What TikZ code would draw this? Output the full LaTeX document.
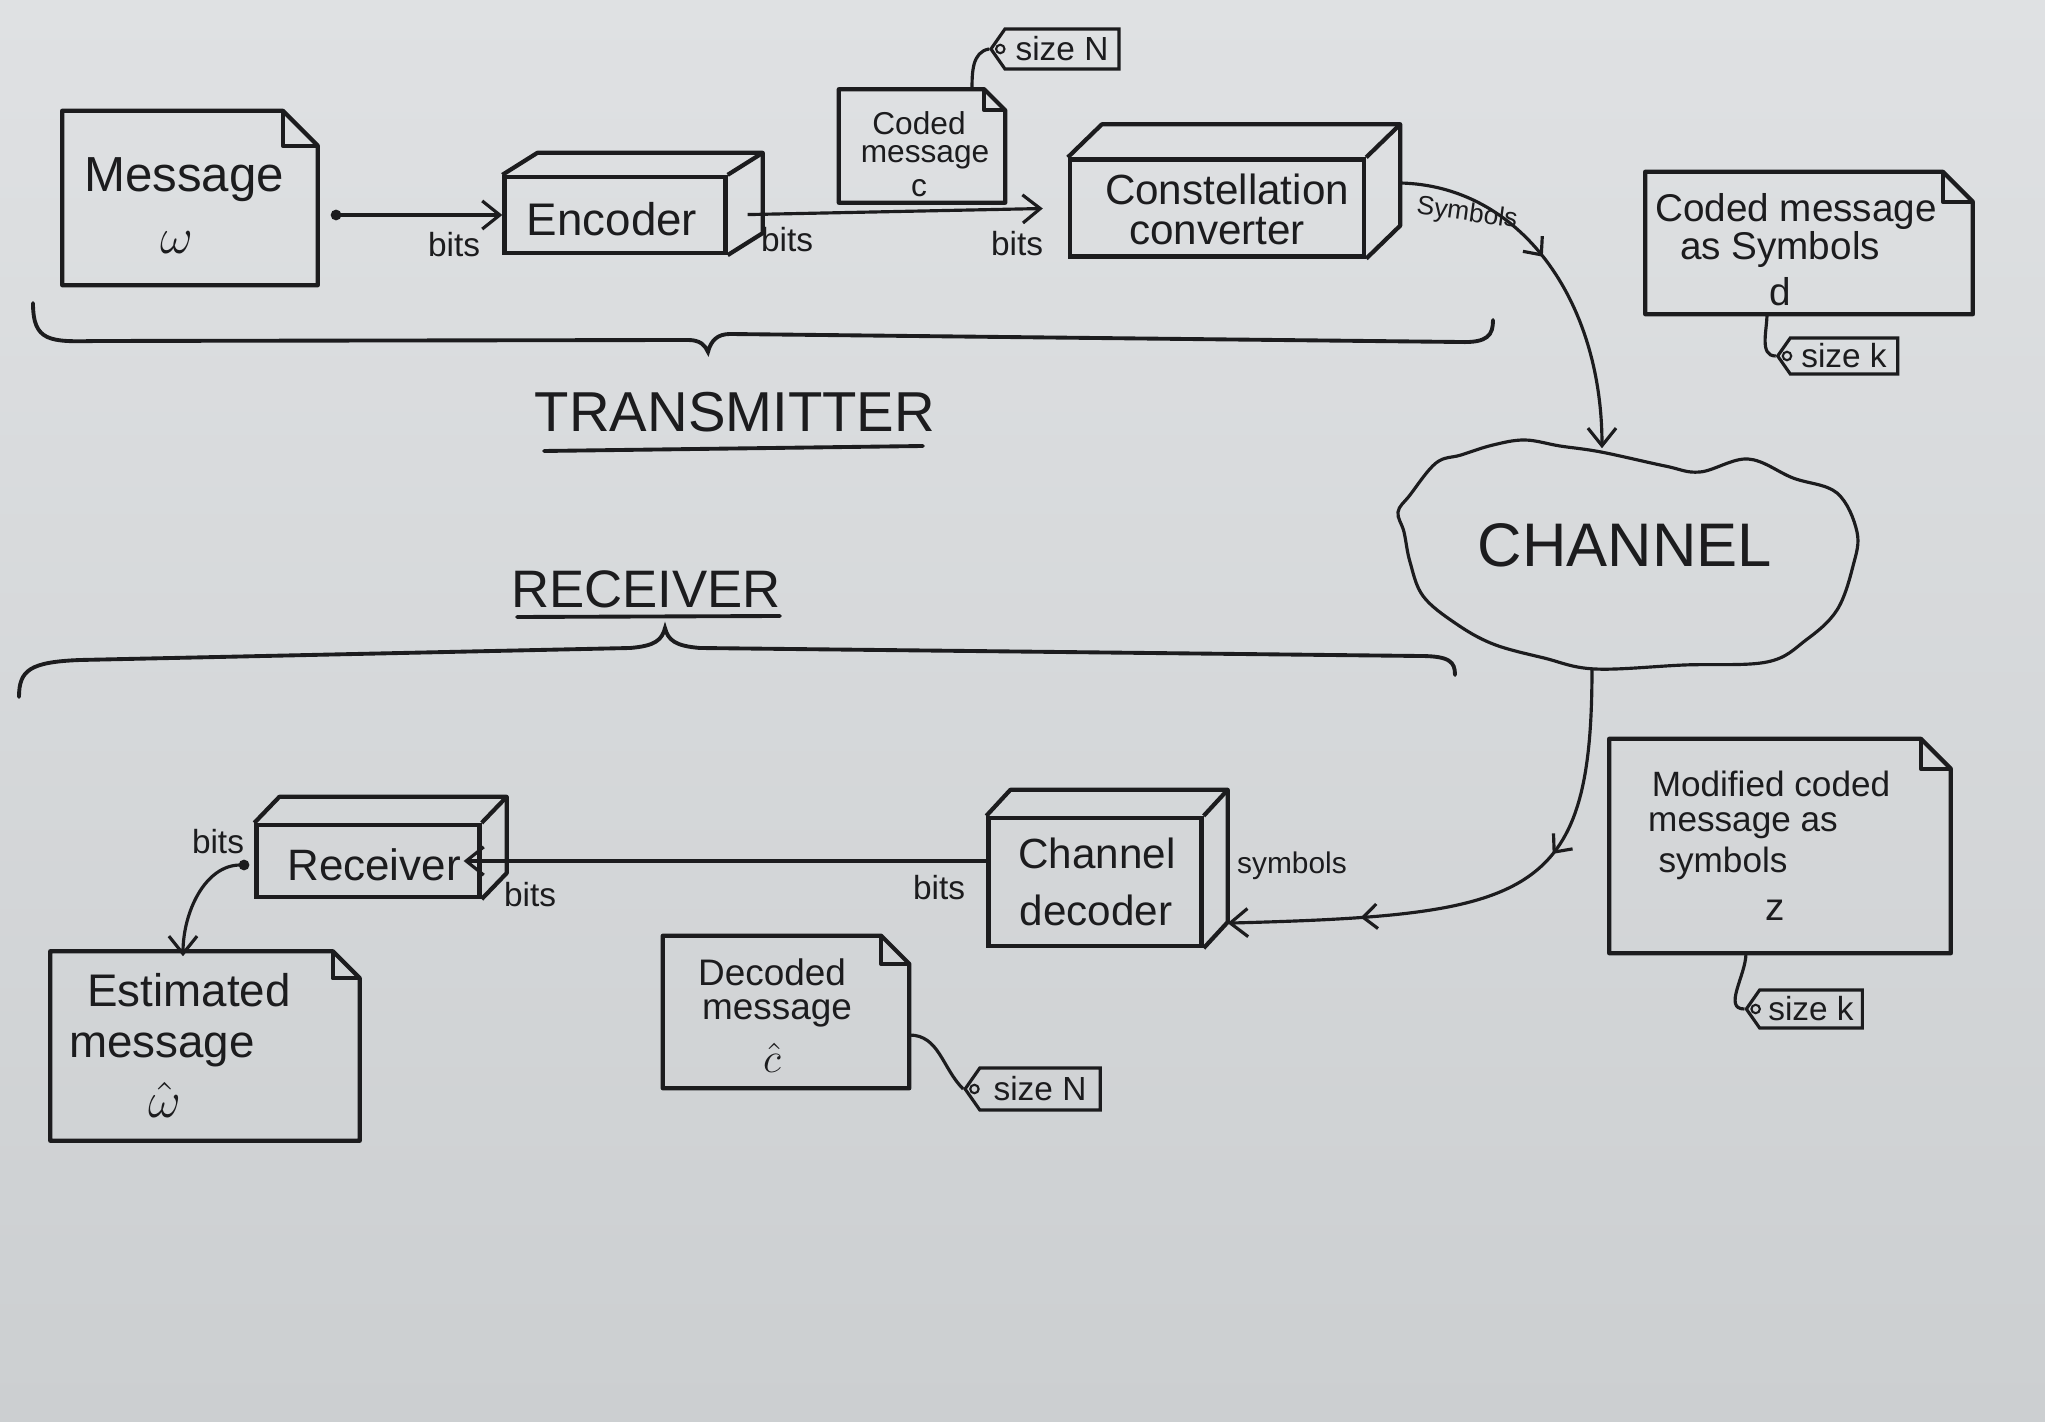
\documentclass[tikz,border=0pt]{standalone}
\usepackage{fontspec}
\setmainfont{Liberation Sans}
\usetikzlibrary{shapes.symbols,arrows.meta,decorations.markings,calc}
\definecolor{paperT}{RGB}{223,225,227}
\definecolor{paperB}{RGB}{204,207,209}
\definecolor{ink}{RGB}{28,28,30}
\newcommand{\fsz}[1]{\fontsize{#1}{#1}\selectfont}
% document outline with folded corner
\newcommand{\docframe}[2]{%
  \draw[docline] (#1.north west) -- ([xshift=-#2]#1.north east) -- ([yshift=-#2]#1.north east) -- (#1.south east) -- (#1.south west) -- cycle;
  \draw[docline] ([xshift=-#2]#1.north east) |- ([yshift=-#2]#1.north east);}
% 3D box: top and right faces
\newcommand{\cubeframe}[3]{%
  \draw[boxline] (#1.north west) -- ++(#2,#3) -- ([xshift=#2,yshift=#3]#1.north east) -- ([xshift=#2,yshift=#3]#1.south east) -- (#1.south east);
  \draw[boxline] (#1.north east) -- ++(#2,#3);}
\newcommand{\taghole}[1]{\draw[ink, line width=0.6pt] ([xshift=3.2pt]#1.west) circle (1.2pt);}
\tikzset{
  boxline/.style={draw=ink, line width=1.2pt, line join=round},
  docline/.style={draw=ink, line width=1.2pt, line join=round},
  cubefront/.style={rectangle, draw=ink, line width=1.2pt, inner sep=0pt},
  docbox/.style={rectangle, inner sep=0pt, draw=none},
  conn/.style={draw=ink, line width=0.9pt},
  arr/.style={conn, -{Straight Barb[length=5pt,width=8pt]}},
  dotarr/.style={conn, {Circle[length=3pt]}-{Straight Barb[length=5pt,width=8pt]}},
  tagbox/.style={signal, signal to=west, signal pointer angle=110, draw=ink, line width=0.9pt,
    inner sep=1pt, text=ink, font=\fsz{9.5}},
  lbl/.style={text=ink, inner sep=0pt},
  bitslbl/.style={lbl, font=\fsz{9.5}},
  bracel/.style={draw=ink, line width=1.1pt, line cap=round},
  onetick/.style={postaction={decorate}, decoration={markings,
    mark=at position #1 with {\arrow{Straight Barb[length=4pt,width=7pt]}}}},
  twoticks/.style={postaction={decorate}, decoration={markings,
    mark=at position 0.36 with {\arrow{Straight Barb[length=4pt,width=7pt]}},
    mark=at position 0.75 with {\arrow{Straight Barb[length=4pt,width=7pt]}}}},
}
\begin{document}
\begin{tikzpicture}[x=0.01cm,y=-0.01cm]
\useasboundingbox (0,0) rectangle (2045,1422);
\shade[top color=paperT, bottom color=paperB] (0,0) rectangle (2045,1422);

% ---------------- TRANSMITTER ----------------
\node[docbox, minimum width=2.54cm, minimum height=1.73cm] (msg) at (190,198) {};
\docframe{msg}{0.35cm}
\node[lbl, font=\fsz{14}] (msgT) at (184,180) {Message};
\node[lbl, font=\fsz{14}] (msgW) at (177,243) {$\omega$};

\node[cubefront, minimum width=2.21cm, minimum height=0.76cm] (enc) at (615,215) {};
\cubeframe{enc}{0.35cm}{0.22cm}
\node[lbl, font=\fsz{13}] (encT) at (612,219) {Encoder};

\node[cubefront, minimum width=2.94cm, minimum height=0.97cm] (conv) at (1217,208) {};
\cubeframe{conv}{0.34cm}{0.33cm}
\node[lbl, font=\fsz{12}] (convT1) at (1227,189) {Constellation};
\node[lbl, font=\fsz{12}] (convT2) at (1217,231) {converter};

\draw[dotarr, shorten <=0.13cm] (msg.east |- enc.west) -- (enc.west);
\node[bitslbl] (b1) at (454,245) {bits};
\draw[arr, shorten <=0.2cm, shorten >=0.25cm] (enc.east) -- (conv.west);
\node[bitslbl] (b2) at (787,240) {bits};
\node[bitslbl] (b3) at (1017,244) {bits};

\node[docbox, minimum width=1.65cm, minimum height=1.12cm] (cm) at (922,146) {};
\docframe{cm}{0.21cm}
\node[lbl, font=\fsz{9}] (cmT1) at (919,123) {Coded};
\node[lbl, font=\fsz{9}] (cmT2) at (925,157) {message};
\node[lbl, font=\fsz{9}] (cmT3) at (919,188) {c};
\node[tagbox, minimum width=1.28cm, minimum height=0.40cm] (tN1) at (1062,49) {size N};
\taghole{tN1}
\draw[conn] ([xshift=0.5cm]cm.north) to[out=90,in=190] (tN1.west);

\node[docbox, minimum width=3.26cm, minimum height=1.41cm] (cd) at (1809,243) {};
\docframe{cd}{0.3cm}
\node[lbl, font=\fsz{11}] (cdT1) at (1796,212) {Coded message};
\node[lbl, font=\fsz{11}] (cdT2) at (1780,250) {as Symbols};
\node[lbl, font=\fsz{11}] (cdT3) at (1780,292) {d};
\node[tagbox, minimum width=1.2cm, minimum height=0.36cm] (tK1) at (1844,356) {size k};
\taghole{tK1}
\draw[conn] ([xshift=-0.42cm]cd.south) to[out=-90,in=180] (tK1.west);

% braces
\draw[bracel] (33,303) .. controls (33,342) and (50,342) .. (96,341) -- (688,340)
  .. controls (700,340) and (705,345) .. (708,352) .. controls (711,340) and (718,334) .. (730,334)
  -- (1460,342) .. controls (1488,343) and (1493,335) .. (1493,320);
\node[lbl, font=\fsz{16}] (txT) at (735,412) {TRANSMITTER};
\draw[bracel] (544,451) -- (923,446);

\node[lbl, font=\fsz{15}] (rxT) at (646,589) {RECEIVER};
\draw[bracel] (517,617) -- (780,616);
\draw[bracel] (19,697) .. controls (19,670) and (30,662) .. (80,660) -- (630,648)
  .. controls (655,646) and (662,640) .. (665,628) .. controls (668,640) and (675,646) .. (700,648)
  -- (1420,656) .. controls (1450,656) and (1455,662) .. (1455,675);

% ---------------- CHANNEL ----------------
\node[docbox, minimum width=4.6cm, minimum height=2.3cm] (ch) at (1628,556) {};
\draw[ink, line width=0.9pt] plot[smooth cycle, tension=0.6] coordinates {
  (1493,445) (1525,440) (1560,446) (1601,452) (1665,466) (1700,472) (1748,459)
  (1793,478) (1837,493) (1857,532) (1853,566) (1837,610) (1806,640) (1767,662)
  (1684,665) (1595,669) (1544,658) (1493,644) (1455,623) (1423,596) (1410,562)
  (1404,532) (1398,512) (1410,495) (1436,463) (1461,455)};
\node[lbl, font=\fsz{17.5}] (chT) at (1625,545) {CHANNEL};

\coordinate (symA) at ([xshift=0.33cm,yshift=0.25cm]conv.east);
\coordinate (symB) at ([xshift=-0.26cm,yshift=-0.08cm]ch.north);
\draw[arr, onetick=0.45] (symA) .. controls (1520,185) and (1602,300) .. (symB);
\node[lbl, font=\fsz{7.5}, rotate=-8] (symT1) at (1467,214) {Symbols};

% ---------------- RECEIVER ----------------
\node[cubefront, minimum width=2.13cm, minimum height=1.28cm] (dec) at (1095,882) {};
\cubeframe{dec}{0.24cm}{0.26cm}
\node[lbl, font=\fsz{12}] (decT1) at (1097,853) {Channel};
\node[lbl, font=\fsz{12}] (decT2) at (1096,910) {decoder};

\coordinate (chOut) at ([xshift=-0.36cm,yshift=0.02cm]ch.south);
\coordinate (decIn) at ([xshift=0.24cm,yshift=0.25cm]dec.south east);
\draw[arr, twoticks] (chOut) .. controls (1592,900) and (1530,915) .. (decIn);
\node[lbl, font=\fsz{8.5}] (symT2) at (1292,866) {symbols};

\node[cubefront, minimum width=2.23cm, minimum height=0.72cm] (rec) at (368,861) {};
\cubeframe{rec}{0.25cm}{0.26cm}
\node[lbl, font=\fsz{12.5}] (recT) at (374,865) {Receiver};

\draw[arr, shorten >=-0.18cm] (dec.west |- rec.east) -- (rec.east);
\node[bitslbl] (b6) at (939,888) {bits};
\node[bitslbl] (b5) at (530,895) {bits};
\node[bitslbl] (b4) at (218,842) {bits};

\node[docbox, minimum width=3.08cm, minimum height=1.88cm] (est) at (205,1046) {};
\docframe{est}{0.27cm}
\node[lbl, font=\fsz{13}] (estT1) at (189,990) {Estimated};
\node[lbl, font=\fsz{13}] (estT2) at (162,1050) {message};
\node[lbl, font=\fsz{13.5}] (estT3) at (165,1100) {$\hat{\omega}$};
\draw[dotarr] ([xshift=-0.05cm,yshift=-0.04cm]rec.west) to[out=180,in=90] ([xshift=-0.22cm,yshift=-0.05cm]est.north);

\node[docbox, minimum width=2.45cm, minimum height=1.51cm] (dd) at (786,1012) {};
\docframe{dd}{0.28cm}
\node[lbl, font=\fsz{10.5}] (ddT1) at (772,972) {Decoded};
\node[lbl, font=\fsz{10.5}] (ddT2) at (777,1013) {message};
\node[lbl, font=\fsz{11.5}] (ddT3) at (772,1058) {$\hat{c}$};
\node[tagbox, minimum width=1.35cm, minimum height=0.42cm] (tN2) at (1040,1089) {size N};
\taghole{tN2}
\draw[conn] ([yshift=-0.23cm]dd.east) to[out=0,in=135] (tN2.west);

\node[docbox, minimum width=3.40cm, minimum height=2.13cm] (mod) at (1780,846) {};
\docframe{mod}{0.3cm}
\node[lbl, font=\fsz{10}] (modT1) at (1771,784) {Modified coded};
\node[lbl, font=\fsz{10}] (modT2) at (1743,826) {message as};
\node[lbl, font=\fsz{10}] (modT3) at (1723,863) {symbols};
\node[lbl, font=\fsz{11}] (modT4) at (1775,910) {z};
\node[tagbox, minimum width=1.16cm, minimum height=0.38cm] (tK2) at (1811,1009) {size k};
\taghole{tK2}
\draw[conn] ([xshift=-0.34cm]mod.south) to[out=-90,in=180] (tK2.west);
\end{tikzpicture}
\end{document}
